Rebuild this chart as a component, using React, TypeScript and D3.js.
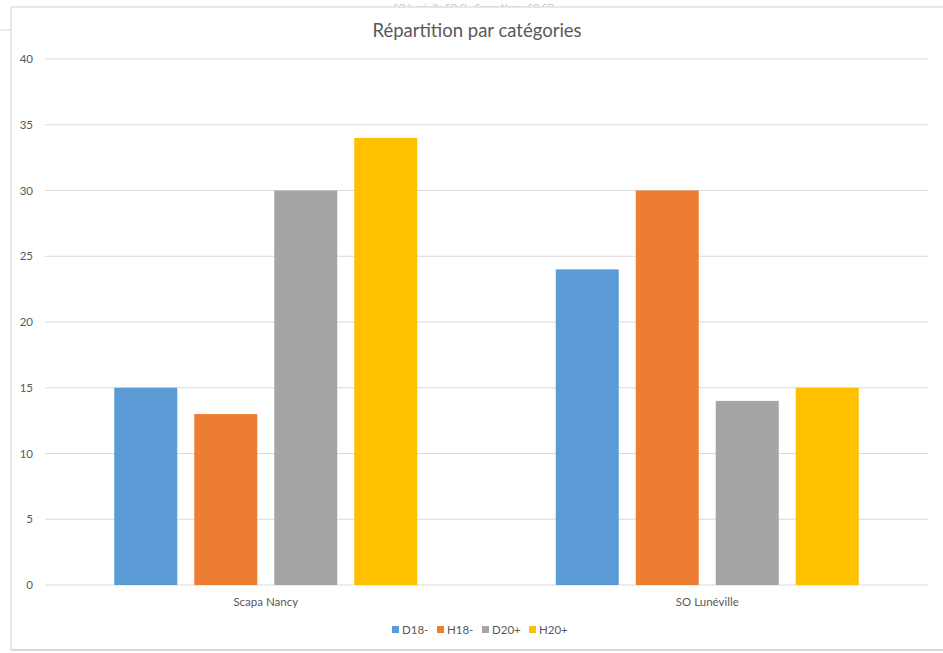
import React from "react";
import * as d3 from "d3";

const categories = ["Scapa Nancy", "SO Lunéville"];
const seriesNames = ["D18-", "H18-", "D20+", "H20+"];
const seriesColors = ["#5B9BD5", "#ED7D31", "#A5A5A5", "#FFC000"];
const d18 = [15, 24];
const h18 = [13, 30];
const d20 = [30, 14];
const h20 = [34, 15];
const yTicks = [0, 5, 10, 15, 20, 25, 30, 35, 40];
const title = "Répartition par catégories";

const W = 943;
const H = 653;
const FONT = "Lato, 'Open Sans', sans-serif";

export default function App() {
  const values = [d18, h18, d20, h20];
  const plotLeft = 45;
  const plotRight = 928;
  const plotTop = 59;
  const plotBottom = 585;

  const x0 = d3.scaleBand<string>().domain(categories).range([plotLeft, plotRight]).paddingInner(0).paddingOuter(0);
  const x1 = d3.scaleBand<string>().domain(seriesNames).range([-151.5, 151.5]).paddingInner(0.2125).paddingOuter(0);
  const y = d3.scaleLinear().domain([0, 40]).range([plotBottom, plotTop]);

  const legendX = [392, 437, 482, 529];

  return (
    <svg width={W} height={H} style={{ position: "absolute", left: 0, top: 0 }} fontFamily={FONT}>
      <rect x={0} y={0} width={W} height={H} fill="#fff" />
      {/* chart behind */}
      <rect x={-20} y={-20} width={980} height={50} rx={10} fill="#fff" stroke="#d9d9d9" strokeWidth={1} />
      <text x={477} y={11} textAnchor="middle" fontSize={9} fill="#bfbfbf">SO Lunéville    SO Sl...    Scapa Nancy    SO SD...</text>
      {/* chart frame */}
      <rect x={11} y={7} width={W + 20} height={643} fill="#fff" stroke="#d9d9d9" strokeWidth={1.2} />
      <line x1={11} x2={W} y1={650} y2={650} stroke="#d9d9d9" strokeWidth={2} />

      <text x={477} y={37} textAnchor="middle" fontSize={18.5} fill="#595959">{title}</text>

      {yTicks.map((t) => (
        <g key={t}>
          <line x1={plotLeft} x2={plotRight} y1={y(t)} y2={y(t)} stroke="#d9d9d9" strokeWidth={1} />
          <text x={33} y={y(t) + 4} textAnchor="end" fontSize={11.5} fill="#595959">{t}</text>
        </g>
      ))}

      {categories.map((c, ci) => {
        const cx = (x0(c) as number) + x0.bandwidth() / 2;
        return (
          <g key={c}>
            {seriesNames.map((s, si) => (
              <rect
                key={s}
                x={cx + (x1(s) as number)}
                y={y(values[si][ci])}
                width={x1.bandwidth()}
                height={y(0) - y(values[si][ci])}
                fill={seriesColors[si]}
              />
            ))}
            <text x={cx} y={606} textAnchor="middle" fontSize={11.5} fill="#595959">{c}</text>
          </g>
        );
      })}

      {seriesNames.map((s, si) => (
        <g key={s}>
          <rect x={legendX[si]} y={626} width={7} height={7} fill={seriesColors[si]} />
          <text x={legendX[si] + 10} y={633.5} fontSize={11.5} fill="#595959">{s}</text>
        </g>
      ))}
    </svg>
  );
}
